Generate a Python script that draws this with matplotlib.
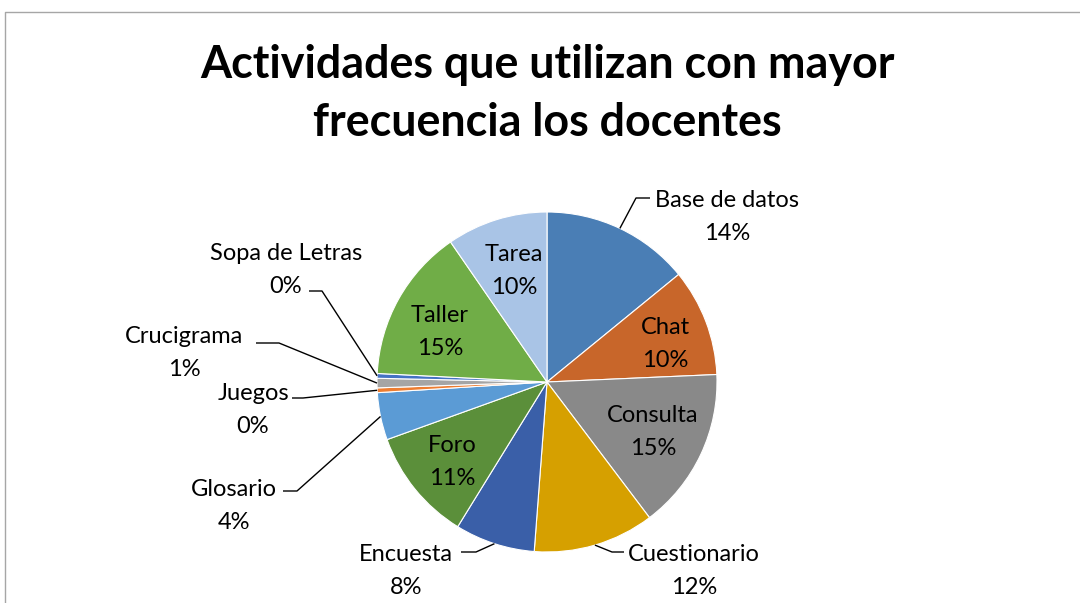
import matplotlib
matplotlib.use("Agg")
import matplotlib.pyplot as plt
import numpy as np
from matplotlib.lines import Line2D

categories = ["Base de datos", "Chat", "Consulta", "Cuestionario", "Encuesta", "Foro",
              "Glosario", "Juegos", "Crucigrama", "Sopa de Letras", "Taller", "Tarea"]
values = [14.1, 10.2, 15.4, 11.5, 7.6, 10.7, 4.5, 0.45, 0.9, 0.45, 14.6, 9.6]
colors = ["#4A7EB5", "#C8662A", "#898989", "#D6A000", "#3A5FA8", "#5B8F3A",
          "#5B9BD5", "#ED7D31", "#A5A5A5", "#4472C4", "#70AD47", "#A9C4E6"]
title = "Actividades que utilizan con mayor\nfrecuencia los docentes"

W, H = 1080, 603
CX, CY, R = 547, 382, 170  # pie centre / radius in pixels

# label layout (pixel positions of label centres; None elbow => inside label)
label_pos = {
    "Base de datos": (727, 217, (636, 198)),
    "Chat": (665, 344, None),
    "Consulta": (653, 432, None),
    "Cuestionario": (694, 571, (612, 552)),
    "Encuesta": (406, 571, (476, 552)),
    "Foro": (452, 462, None),
    "Glosario": (234, 506, (297, 491)),
    "Juegos": (253, 410, (303, 398)),
    "Crucigrama": (184, 353, (279, 343)),
    "Sopa de Letras": (286, 270, (322, 291)),
    "Taller": (440, 332, None),
    "Tarea": (514, 271, None),
}
text_edge = {  # x where the horizontal leader meets the text
    "Base de datos": 650, "Cuestionario": 624, "Encuesta": 461, "Glosario": 283,
    "Juegos": 292, "Crucigrama": 256, "Sopa de Letras": 309,
}

fig = plt.figure(figsize=(W / 100, H / 100), dpi=100)
ax = fig.add_axes([0, 0, 1, 1])

def px(x, y):
    return ((x - CX) / R, (CY - y) / R)

wedges, _ = ax.pie(values, colors=colors, startangle=90, counterclock=False,
                   radius=1.0, center=(0, 0), frame=False,
                   wedgeprops=dict(edgecolor="white", linewidth=0.8))
ax.set_xlim(-CX / R, (W - CX) / R)
ax.set_ylim(-(H - CY) / R, CY / R)
ax.set_aspect("equal")
ax.axis("off")

font = "Lato"
total = sum(values)
for w, cat, v in zip(wedges, categories, values):
    lx, ly, elbow = label_pos[cat]
    pct = f"{round(v / total * 100):.0f}%"
    tx, ty = px(lx, ly)
    ax.text(tx, ty, f"{cat}\n{pct}", ha="center", va="center", fontsize=17,
            family=font, color="black", linespacing=1.7)
    if elbow is not None:
        ang = np.deg2rad((w.theta1 + w.theta2) / 2)
        ex, ey = np.cos(ang), np.sin(ang)
        bx, by = px(*elbow)
        tx2, _ = px(text_edge[cat], elbow[1])
        ax.plot([ex, bx, tx2], [ey, by, by], color="black", lw=1.0,
                solid_capstyle="butt")

fig.text(547 / W, 1 - 94 / H, title, ha="center", va="center", fontsize=32.3,
         fontweight="bold", family=font, linespacing=1.45)

# chart frame (left and top edge visible)
fig.add_artist(Line2D([5 / W, 5 / W, 1.0], [0.0, 1 - 12 / H, 1 - 12 / H],
                      transform=fig.transFigure, color="#A6A6A6", lw=1.0))

fig.savefig("out.png", dpi=100)
